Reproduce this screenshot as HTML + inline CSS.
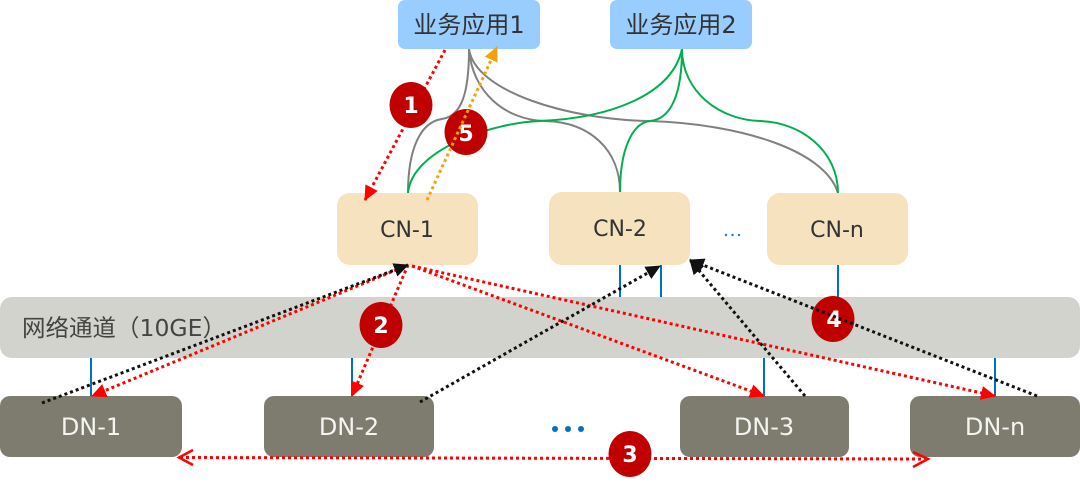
<!DOCTYPE html>
<html>
<head>
<meta charset="utf-8">
<style>
html,body{margin:0;padding:0;background:#fff}
svg{display:block}
text{font-family:"DejaVu Sans","Noto Sans CJK SC",sans-serif}
</style>
</head>
<body>
<svg width="1080" height="488" viewBox="0 0 1080 488" xmlns="http://www.w3.org/2000/svg">
<defs>
<marker id="r" markerUnits="userSpaceOnUse" markerWidth="16" markerHeight="14" refX="14" refY="7" orient="auto"><path d="M0 0L15 7L0 14Z" fill="#f00"/></marker>
<marker id="k" markerUnits="userSpaceOnUse" markerWidth="16" markerHeight="14" refX="14" refY="7" orient="auto"><path d="M0 0L15 7L0 14Z" fill="#111"/></marker>
<marker id="o" markerUnits="userSpaceOnUse" markerWidth="16" markerHeight="14" refX="14" refY="7" orient="auto"><path d="M0 0L15 7L0 14Z" fill="#f5a10a"/></marker>
</defs>

<!-- connector links -->
<g stroke="#0070c0" stroke-width="2" fill="none">
<path d="M91 358V396M352 358V396M764 358V396M995 358V396M620 265V297M661 265V297M838 265V297"/>
</g>

<!-- curves -->
<g fill="none" stroke="#808080" stroke-width="2">
<path d="M469 49C469 92 462 116 442 119C420 122 408 150 408 193"/>
<path d="M469 49C472 92 505 120 545 121C590 122 620 150 620 192"/>
<path d="M469 49C475 92 570 120 650 121C740 124 825 150 838 193"/>
</g>
<g fill="none" stroke="#00b050" stroke-width="2">
<path d="M682 49C672 95 610 118 540 121C490 123 412 150 408 193"/>
<path d="M682 49C682 92 672 119 650 121C632 123 620 150 620 192"/>
<path d="M682 49C682 92 720 120 760 121C800 122 838 150 838 193"/>
</g>

<!-- boxes -->
<rect x="398" y="0" width="142" height="49" rx="7" fill="#99ccff"/>
<rect x="610" y="0" width="142" height="49" rx="7" fill="#99ccff"/>
<rect x="337" y="193" width="141" height="72" rx="13" fill="#f7e2bf"/>
<rect x="549" y="192" width="141" height="73" rx="13" fill="#f7e2bf"/>
<rect x="767" y="193" width="141" height="72" rx="13" fill="#f7e2bf"/>
<rect x="0" y="297" width="1080" height="61" rx="12" fill="#d2d3cd"/>
<rect x="0" y="396" width="182" height="61" rx="10" fill="#7d7c6e"/>
<rect x="264" y="396" width="170" height="61" rx="10" fill="#7d7c6e"/>
<rect x="680" y="396" width="169" height="61" rx="10" fill="#7d7c6e"/>
<rect x="910" y="396" width="170" height="61" rx="10" fill="#7d7c6e"/>

<!-- labels -->
<g font-size="24" fill="#333" text-anchor="middle">
<text x="469" y="33">业务应用1</text>
<text x="681" y="33">业务应用2</text>
</g>
<g font-size="22" fill="#333" text-anchor="middle">
<text x="407" y="237">CN-1</text>
<text x="620" y="236">CN-2</text>
<text x="837" y="237">CN-n</text>
</g>
<text x="22" y="336" font-size="23.500" fill="#444">网络通道（10GE）</text>
<g font-size="24" fill="#f4f4f0" text-anchor="middle">
<text x="91" y="435">DN-1</text>
<text x="349" y="435">DN-2</text>
<text x="764" y="435">DN-3</text>
<text x="995" y="435">DN-n</text>
</g>

<!-- ellipses -->
<g fill="#1a7cc8">
<circle cx="726" cy="235" r="1.200"/><circle cx="732.500" cy="235" r="1.200"/><circle cx="739" cy="235" r="1.200"/>
</g>
<g fill="#0070c0">
<circle cx="555" cy="429" r="3"/><circle cx="568" cy="429" r="3"/><circle cx="581" cy="429" r="3"/>
</g>

<!-- red dotted arrows -->
<g fill="none" stroke="#f00" stroke-width="3" stroke-dasharray="3 3">
<path d="M445 50L365 200" marker-end="url(#r)"/>
<path d="M408 265L352 396" marker-end="url(#r)"/>
<path d="M408 265L92 396" marker-end="url(#r)"/>
<path d="M412 266L764 396" marker-end="url(#r)"/>
<path d="M412 266L995 396" marker-end="url(#r)"/>
<path d="M180 457.500L927 459"/>
</g>
<path d="M193 450L179 457.500L193 465" fill="none" stroke="#f00" stroke-width="2.500"/>
<path d="M913 452L928 459L913 467" fill="none" stroke="#f00" stroke-width="2.500"/>

<!-- badges -->
<g fill="#c00000">
<ellipse cx="411" cy="105" rx="21.500" ry="23"/>
<ellipse cx="466" cy="132" rx="21.500" ry="23"/>
<ellipse cx="381" cy="325" rx="21.500" ry="23"/>
<ellipse cx="630" cy="454" rx="21.500" ry="23"/>
<ellipse cx="833" cy="319" rx="21.500" ry="23"/>
</g>
<g font-size="22" font-weight="700" fill="#fff" text-anchor="middle">
<text x="411" y="113">1</text>
<text x="466" y="141">5</text>
<text x="381" y="333">2</text>
<text x="630" y="462">3</text>
<text x="834" y="327">4</text>
</g>

<!-- black + orange dotted arrows, over badges -->
<g fill="none" stroke="#111" stroke-width="3" stroke-dasharray="3 3">
<path d="M42 403L408 265" marker-end="url(#k)"/>
<path d="M420 402L660 266" marker-end="url(#k)"/>
<path d="M805 396L690 260" marker-end="url(#k)"/>
<path d="M1037 396L690 260" marker-end="url(#k)"/>
</g>
<path d="M427 200L497 47" fill="none" stroke="#f5a10a" stroke-width="3" stroke-dasharray="3 3" marker-end="url(#o)"/>
</svg>
</body>
</html>
